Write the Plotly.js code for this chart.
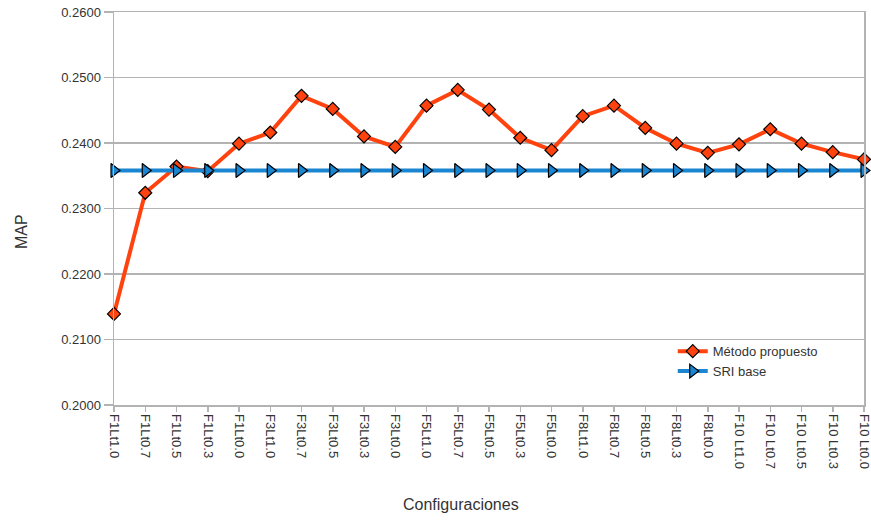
<!DOCTYPE html>
<html>
<head>
<meta charset="utf-8">
<script src="https://cdn.plot.ly/plotly-3.0.1.min.js"></script>
<style>html,body{margin:0;padding:0;background:#fff;}#chart{width:871px;height:521px;}</style>
</head>
<body>
<div id="chart"></div>
<script>
const categories = ["F1Lt1.0","F1Lt0.7","F1Lt0.5","F1Lt0.3","F1Lt0.0",
  "F3Lt1.0","F3Lt0.7","F3Lt0.5","F3Lt0.3","F3Lt0.0",
  "F5Lt1.0","F5Lt0.7","F5Lt0.5","F5Lt0.3","F5Lt0.0",
  "F8Lt1.0","F8Lt0.7","F8Lt0.5","F8Lt0.3","F8Lt0.0",
  "F10 Lt1.0","F10 Lt0.7","F10 Lt0.5","F10 Lt0.3","F10 Lt0.0"];
const metodoPropuesto = [0.2139,0.2324,0.2364,0.2357,0.2399,
  0.2416,0.2472,0.2452,0.2410,0.2394,
  0.2457,0.2481,0.2451,0.2408,0.2389,
  0.2441,0.2457,0.2423,0.2399,0.2385,
  0.2398,0.2421,0.2399,0.2386,0.2375];
const sriBase = [0.2358,0.2358,0.2358,0.2358,0.2358,
  0.2358,0.2358,0.2358,0.2358,0.2358,
  0.2358,0.2358,0.2358,0.2358,0.2358,
  0.2358,0.2358,0.2358,0.2358,0.2358,
  0.2358,0.2358,0.2358,0.2358,0.2358];
const yTicks = [0.20,0.21,0.22,0.23,0.24,0.25,0.26];

const traces = [
  {x: categories, y: metodoPropuesto, name: "Método propuesto", type: "scatter", mode: "lines+markers",
   line: {color: "#ff420e", width: 4},
   marker: {symbol: "diamond", size: 10, color: "#ff420e", line: {color: "#000", width: 1.2}}, cliponaxis: false},
  {x: categories, y: sriBase, name: "SRI base", type: "scatter", mode: "lines+markers",
   line: {color: "#1a86d2", width: 4},
   marker: {symbol: "triangle-right", size: 12, color: "#1a86d2", line: {color: "#000", width: 1.2}}, cliponaxis: false}
];

const layout = {
  width: 871, height: 521,
  margin: {l: 114, r: 7, t: 12, b: 116},
  paper_bgcolor: "#fff", plot_bgcolor: "#fff",
  font: {family: "Liberation Sans, Arial, sans-serif", size: 13, color: "#333"},
  showlegend: true,
  legend: {x: 0.745, y: 0.175, xanchor: "left", yanchor: "top", bgcolor: "rgba(0,0,0,0)",
    font: {size: 13, color: "#333"}, tracegroupgap: 0, itemwidth: 30},
  xaxis: {
    type: "category", range: [0, 24], tickangle: 90,
    showgrid: false, showline: true, linecolor: "#b3b3b3", linewidth: 1.5,
    ticks: "outside", ticklen: 5, tickcolor: "#b3b3b3", tickwidth: 1.5,
    tickfont: {size: 13, color: "#333"},
    mirror: true
  },
  yaxis: {
    range: [0.20, 0.26], tickvals: yTicks, tickformat: ".4f",
    showgrid: true, gridcolor: "#b3b3b3", gridwidth: 1.5,
    showline: true, linecolor: "#b3b3b3", linewidth: 1.5, mirror: true,
    ticks: "outside", ticklen: 9, tickcolor: "#b3b3b3", tickwidth: 1.5,
    tickfont: {size: 13, color: "#333"}, zeroline: false
  },
  annotations: [
    {text: "Configuraciones", xref: "paper", yref: "paper", x: 0.463, y: -0.254,
     xanchor: "center", yanchor: "middle", showarrow: false, font: {size: 16, color: "#333"}},
    {text: "MAP", xref: "paper", yref: "paper", x: -0.124, y: 0.44, textangle: -90,
     xanchor: "center", yanchor: "middle", showarrow: false, font: {size: 16, color: "#333"}}
  ]
};
Plotly.newPlot("chart", traces, layout, {displayModeBar: false, staticPlot: true});
</script>
</body>
</html>
